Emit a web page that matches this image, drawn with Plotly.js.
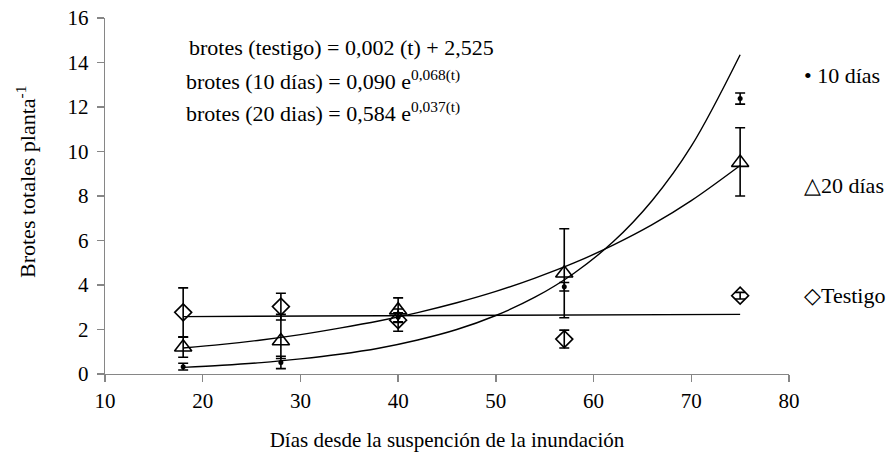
<!DOCTYPE html>
<html>
<head>
<meta charset="utf-8">
<script src="https://cdn.plot.ly/plotly-3.0.1.min.js"></script>
<style>
html,body{margin:0;padding:0;background:#fff;}
#chart{width:894px;height:458px;}
</style>
</head>
<body>
<div id="chart"></div>
<script>
// Days of measurement
const days = [18, 28, 40, 57, 75];

// 10 días (dots)
const diez = [0.33, 0.52, 2.55, 3.92, 12.38];
const diezErr = [0.15, 0.28, 0.2, 0.19, 0.25];

// 20 días (triangles)
const veinte = [1.2, 1.48, 2.87, 4.53, 9.5];
const veinteErrPlus = [0.45, 1.2, 0.55, 2.0, 1.57];
const veinteErrMinus = [0.45, 0.78, 0.55, 2.0, 1.5];

// Testigo (diamonds)
const testigo = [2.77, 3.03, 2.42, 1.57, 3.52];
const testigoErr = [1.1, 0.6, 0.5, 0.4, 0.15];

// Fitted trend curves
const fitX = [18, 22, 26, 30, 34, 38, 42, 46, 50, 54, 58, 62, 66, 70, 75];
const fitDiez = [0.30, 0.39, 0.51, 0.68, 0.89, 1.16, 1.53, 2.00, 2.63, 3.45, 4.53, 5.94, 7.80, 10.24, 14.35];
const fitVeinte = [1.17, 1.33, 1.53, 1.77, 2.06, 2.38, 2.76, 3.20, 3.71, 4.31, 4.99, 5.79, 6.71, 7.79, 9.37];
const fitTestX = [18, 75];
const fitTestigo = [2.58, 2.68];

// Text
const equations = [
  'brotes (testigo) = 0,002 (t) + 2,525',
  'brotes (10 días) = 0,090 e<sup>0,068(t)</sup>',
  'brotes (20 dias) = 0,584 e<sup>0,037(t)</sup>'
];
const legendLabels = ['• 10 días', '△20 días', '◇Testigo'];
const xTitle = 'Días desde la suspención de la inundación';
const yTitle = 'Brotes totales planta<sup>-1</sup>';

const FAM = 'Liberation Serif';
const BLACK = '#000';
const GRAY = '#868686';

const traces = [
  {x: fitTestX, y: fitTestigo, mode: 'lines', line: {color: BLACK, width: 1.4}, hoverinfo: 'skip', showlegend: false},
  {x: fitX, y: fitDiez, mode: 'lines', line: {color: BLACK, width: 1.4, shape: 'spline'}, hoverinfo: 'skip', showlegend: false},
  {x: fitX, y: fitVeinte, mode: 'lines', line: {color: BLACK, width: 1.4, shape: 'spline'}, hoverinfo: 'skip', showlegend: false},
  {x: days, y: testigo, mode: 'markers', name: 'Testigo',
   marker: {symbol: 'diamond-open', size: 13, color: BLACK, line: {width: 1.6, color: BLACK}},
   error_y: {type: 'data', array: testigoErr, visible: true, color: BLACK, thickness: 1.6, width: 5},
   showlegend: false},
  {x: days, y: veinte, mode: 'markers', name: '20 días',
   marker: {symbol: 'triangle-up-open', size: 15, color: BLACK, line: {width: 1.6, color: BLACK}},
   error_y: {type: 'data', symmetric: false, array: veinteErrPlus, arrayminus: veinteErrMinus, visible: true, color: BLACK, thickness: 1.6, width: 5},
   showlegend: false},
  {x: days, y: diez, mode: 'markers', name: '10 días',
   marker: {symbol: 'circle', size: 5, color: BLACK},
   error_y: {type: 'data', array: diezErr, visible: true, color: BLACK, thickness: 1.6, width: 5},
   showlegend: false}
];

// helpers converting picture pixels of the plot frame to paper fractions (layout only)
const px = v => (v - 105) / 684;
const py = v => 1 - (v - 18) / 356;

const annotations = [];
const eqY = [48, 80, 112];
const eqX = [187, 184, 184];
equations.forEach((t, i) => {
  annotations.push({xref: 'paper', yref: 'paper', x: px(eqX[i]), y: py(eqY[i]),
    xanchor: 'left', yanchor: 'middle', text: t, showarrow: false,
    font: {family: FAM, size: 22, color: BLACK}});
});
const legY = [75, 185, 295];
legendLabels.forEach((t, i) => {
  annotations.push({xref: 'paper', yref: 'paper', x: px(802), y: py(legY[i]),
    xanchor: 'left', yanchor: 'middle', text: t, showarrow: false,
    font: {family: FAM, size: 22, color: BLACK}});
});
annotations.push({xref: 'paper', yref: 'paper', x: px(26), y: py(182),
  xanchor: 'center', yanchor: 'middle', textangle: -90, text: yTitle, showarrow: false,
  font: {family: FAM, size: 22, color: BLACK}});

const layout = {
  width: 894, height: 458,
  margin: {l: 105, r: 105, t: 18, b: 84},
  paper_bgcolor: '#fff', plot_bgcolor: '#fff',
  font: {family: FAM, size: 21, color: BLACK},
  showlegend: false,
  xaxis: {
    range: [10, 80], tickvals: [10, 20, 30, 40, 50, 60, 70, 80],
    showgrid: false, zeroline: false, showline: true, linecolor: GRAY, linewidth: 1.3,
    ticks: 'outside', ticklen: 7, tickcolor: GRAY, tickwidth: 1.3,
    tickfont: {family: FAM, size: 21, color: BLACK},
    title: {text: xTitle, font: {family: FAM, size: 21, color: BLACK}, standoff: 20}
  },
  yaxis: {
    range: [0, 16], tickvals: [0, 2, 4, 6, 8, 10, 12, 14, 16],
    showgrid: false, zeroline: false, showline: true, linecolor: GRAY, linewidth: 1.3,
    ticks: 'outside', ticklen: 7, tickcolor: GRAY, tickwidth: 1.3,
    ticklabelstandoff: 4,
    tickfont: {family: FAM, size: 21, color: BLACK}
  },
  annotations: annotations
};

Plotly.newPlot('chart', traces, layout, {displayModeBar: false, staticPlot: true});
</script>
</body>
</html>
